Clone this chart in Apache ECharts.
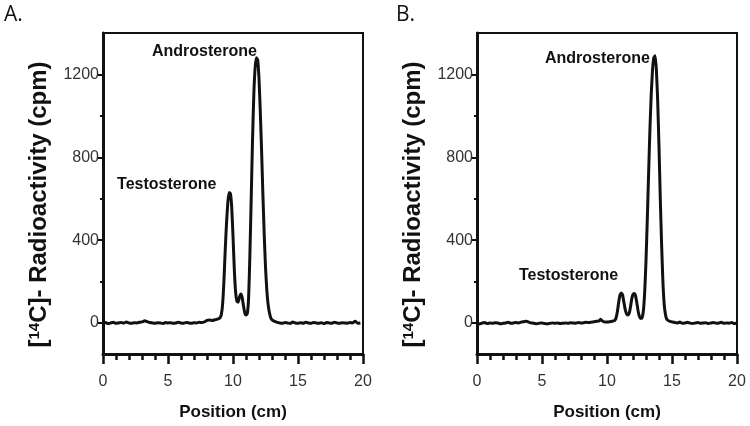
<!DOCTYPE html>
<html>
<head>
<meta charset="utf-8">
<script src="https://cdn.jsdelivr.net/npm/echarts@6/dist/echarts.min.js"></script>
<style>
  html, body { margin: 0; padding: 0; background: #fff; }
  #chart { width: 750px; height: 426px; }
</style>
</head>
<body>
<div id="chart"></div>
<script>
// panel A: position (cm), counts (cpm)
const posA = [0,0.2,0.4,0.6,0.8,1,1.2,1.4,1.6,1.8,2,2.2,2.4,2.6,2.8,3,3.2,3.4,3.6,3.8,4,4.2,4.4,4.6,4.8,5,5.2,5.4,5.6,5.8,6,6.2,6.4,6.6,6.8,7,7.2,7.4,7.6,7.8,8,8.2,8.4,8.6,8.8,9,9.1,9.2,9.3,9.4,9.5,9.6,9.7,9.8,9.9,10,10.1,10.2,10.3,10.4,10.5,10.6,10.7,10.8,10.9,11,11.1,11.2,11.3,11.4,11.5,11.6,11.7,11.8,11.9,12,12.1,12.2,12.3,12.4,12.5,12.6,12.7,12.8,12.9,13,13.2,13.4,13.6,13.8,14,14.2,14.4,14.6,14.8,15,15.2,15.4,15.6,15.8,16,16.2,16.4,16.6,16.8,17,17.2,17.4,17.6,17.8,18,18.2,18.4,18.6,18.8,19,19.2,19.4,19.6,19.8,20];
const cpmA = [0,2,-3,0,3,-2,0,2,-1,5,0,-2,1,0,3,5,10,6,2,0,-2,1,0,-3,2,0,1,-2,0,3,0,-1,2,0,-2,1,0,3,2,5,12,14,12,15,18,25,40,90,200,350,480,580,630,625,560,420,260,150,105,100,125,140,125,85,50,38,45,120,330,600,880,1100,1230,1280,1270,1180,1020,830,620,430,270,160,90,50,25,15,8,3,0,-2,2,0,-3,5,0,-2,1,-1,3,0,-2,2,0,-1,1,-3,2,0,-1,3,0,-2,1,0,-1,2,0,8,-2,0];

// panel B
const posB = [0,0.2,0.4,0.6,0.8,1,1.2,1.4,1.6,1.8,2,2.2,2.4,2.6,2.8,3,3.2,3.4,3.6,3.8,4,4.2,4.4,4.6,4.8,5,5.2,5.4,5.6,5.8,6,6.2,6.4,6.6,6.8,7,7.2,7.4,7.6,7.8,8,8.2,8.4,8.6,8.8,9,9.2,9.4,9.5,9.6,9.8,10,10.2,10.4,10.6,10.7,10.8,10.9,11,11.1,11.2,11.3,11.4,11.5,11.6,11.7,11.8,11.9,12,12.1,12.2,12.3,12.4,12.5,12.6,12.7,12.8,12.9,13,13.1,13.2,13.3,13.4,13.5,13.6,13.7,13.8,13.9,14,14.1,14.2,14.3,14.4,14.5,14.6,14.8,15,15.2,15.4,15.6,15.8,16,16.2,16.4,16.6,16.8,17,17.2,17.4,17.6,17.8,18,18.2,18.4,18.6,18.8,19,19.2,19.4,19.6,19.8,20];
const cpmB = [0,-5,0,2,-3,0,-2,1,0,-4,-2,0,3,-1,0,2,0,4,6,8,3,0,-2,-4,-1,0,-3,-5,-2,0,-2,0,-3,-1,0,-2,1,0,-1,2,0,1,3,2,4,6,8,10,18,12,5,5,6,8,12,25,55,100,135,145,135,100,65,45,38,45,75,115,138,142,130,95,55,30,22,25,60,150,300,500,720,930,1100,1220,1280,1290,1220,1070,850,600,380,200,90,40,18,8,5,2,0,4,-2,0,3,-1,-3,0,2,-2,0,1,-3,0,2,-1,0,3,-2,0,-1,2,-3,0];

const yMajor = [0, 400, 800, 1200];
const yMinor = [200, 600, 1000];
const yTitle = '[{s|14}C]- Radioactivity (cpm)';
const xTitle = 'Position (cm)';

// peak labels: [text, x(cm), y(cpm)] at left edge of text
const notesA = [['Androsterone', 3.77, 1310], ['Testosterone', 1.08, 667]];
const notesB = [['Androsterone', 5.23, 1277], ['Testosterone', 3.23, 230]];

const FONT = '"Liberation Sans", Arial, sans-serif';
const INK = '#111';

function pairs(xs, ys) {
  return xs.map((x, i) => [x, ys[i]]);
}

function xAxisFor(idx) {
  return {
    type: 'value', gridIndex: idx, min: 0, max: 20, interval: 5,
    name: xTitle, nameLocation: 'middle', nameGap: 50,
    nameTextStyle: { fontFamily: FONT, fontWeight: 'bold', fontSize: 17, color: INK },
    axisLine: { show: true, onZero: false, lineStyle: { color: INK, width: 3 } },
    axisTick: { show: true, length: 10, lineStyle: { color: INK, width: 2.5 } },
    minorTick: { show: true, splitNumber: 5, length: 6, lineStyle: { color: INK, width: 2.5 } },
    axisLabel: { margin: 20, fontFamily: FONT, fontSize: 16, color: '#333' },
    splitLine: { show: false }
  };
}

function yAxesFor(idx) {
  return [{
    type: 'value', gridIndex: idx, min: -150, max: 1400,
    name: yTitle, nameLocation: 'middle', nameGap: 52, nameRotate: 90,
    nameTextStyle: {
      fontFamily: FONT, fontWeight: 'bold', fontSize: 24, color: INK,
      padding: [0, 22, 0, 0],
      rich: { s: { fontFamily: FONT, fontWeight: 'bold', fontSize: 15, color: INK, verticalAlign: 'top', padding: [0, 0, 8, 0] } }
    },
    axisLine: { show: true, onZero: false, lineStyle: { color: INK, width: 3 } },
    axisTick: { show: true, customValues: yMajor, length: 6, lineStyle: { color: INK, width: 2 } },
    axisLabel: { customValues: yMajor, margin: 4, fontFamily: FONT, fontSize: 16, color: '#333', formatter: v => String(v) },
    splitLine: { show: false }
  }, {
    type: 'value', gridIndex: idx, min: -150, max: 1400, position: 'left',
    axisLine: { show: false },
    axisTick: { show: true, customValues: yMinor, length: 3, lineStyle: { color: INK, width: 2 } },
    axisLabel: { show: false },
    splitLine: { show: false }
  }];
}

function notePoints(notes) {
  return {
    symbol: 'circle', symbolSize: 0, silent: true,
    label: {
      show: true, position: 'inside', align: 'left', verticalAlign: 'middle',
      fontFamily: FONT, fontWeight: 'bold', fontSize: 16, color: INK,
      formatter: p => p.name
    },
    data: notes.map(n => ({ name: n[0], coord: [n[1], n[2]], value: n[2] }))
  };
}

function trace(idx, data, notes) {
  return {
    type: 'line', xAxisIndex: idx, yAxisIndex: idx * 2,
    data: data, symbol: 'none', smooth: 0.15,
    lineStyle: { color: INK, width: 3 },
    markPoint: notePoints(notes)
  };
}

const chart = echarts.init(document.getElementById('chart'));
chart.setOption({
  animation: false,
  backgroundColor: '#fff',
  grid: [
    { left: 103, top: 33, width: 260, height: 323, show: true, borderColor: INK, borderWidth: 2 },
    { left: 477, top: 33, width: 260, height: 323, show: true, borderColor: INK, borderWidth: 2 }
  ],
  xAxis: [xAxisFor(0), xAxisFor(1)],
  yAxis: yAxesFor(0).concat(yAxesFor(1)),
  graphic: [
    { type: 'text', left: 4, top: 5, style: { text: 'A.', fontFamily: '"Open Sans", "Liberation Sans", sans-serif', fontSize: 21, fill: INK } },
    { type: 'text', left: 396, top: 5, style: { text: 'B.', fontFamily: '"Open Sans", "Liberation Sans", sans-serif', fontSize: 21, fill: INK } }
  ],
  series: [
    trace(0, pairs(posA, cpmA), notesA),
    trace(1, pairs(posB, cpmB), notesB)
  ]
});
</script>
</body>
</html>
